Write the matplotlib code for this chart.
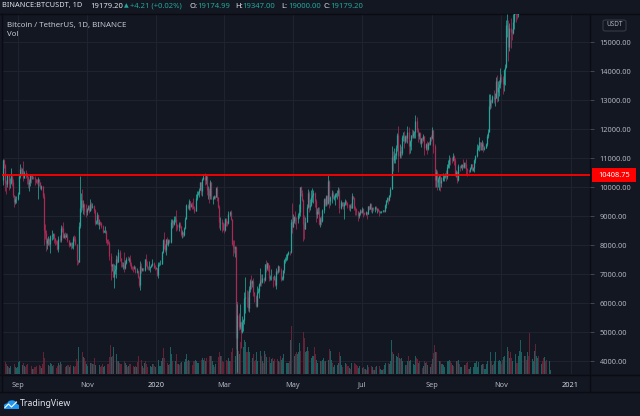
import matplotlib
matplotlib.use('Agg')
import matplotlib.pyplot as plt
import matplotlib.dates as mdates
import matplotlib.transforms as mtransforms
from matplotlib.patches import Rectangle, FancyBboxPatch, Circle
from matplotlib.lines import Line2D
import numpy as np
import pandas as pd

plt.rcParams['font.family'] = ['Noto Sans', 'DejaVu Sans']

# ---------------- data (BINANCE BTCUSDT, 1D) ----------------
start_date = '2019-08-19'
first_open = 10230.0

close = [
 # Aug 19-31 2019
 10920,10760,10130,10120,10410,10140,10140,10370,10190,9720,9490,9590,9600,
 # Sep 2019
 9770,10390,10620,10580,10580,10320,10490,10400,10330,10110,10160,10410,10360,10360,10310,
 10260,10190,10160,10270,10170,9980,10030,9700,8530,8430,8060,8190,8210,8050,8300,
 # Oct 2019
 8330,8390,8240,8150,8130,7860,8210,8180,8590,8570,8270,8340,8290,8350,8160,8000,
 8070,7950,7960,8230,8210,8020,7470,7430,8660,9260,9550,9300,9430,9160,9140,
 # Nov 2019
 9230,9300,9190,9400,9310,9340,9200,8770,8810,9040,8720,8800,8760,8640,8460,
 8490,8500,8170,8120,8080,7620,7280,7330,6900,7110,7160,7510,7420,7760,7540,
 # Dec 2019
 7400,7290,7300,7200,7390,7530,7500,7520,7340,7220,7200,7190,7250,7070,7120,6880,
 6620,7280,7150,7190,7140,7510,7320,7250,7200,7200,7250,7320,7390,7220,7200,
 # Jan 2020
 7200,6960,7340,7350,7360,7760,8160,8040,7820,8200,8020,8180,8110,8810,8820,8720,
 8900,8910,8700,8630,8740,8660,8390,8440,8340,8600,8900,9390,9290,9510,9350,
 # Feb 2020
 9380,9330,9290,9180,9620,9760,9800,9900,10170,9850,10270,10350,10240,10370,9900,
 9910,9700,10180,9600,9610,9690,9660,9960,9660,9310,8780,8810,8710,8530,
 # Mar 2020
 8520,8910,8760,8750,9070,9150,8890,8030,7930,7890,7940,4800,5580,5170,5360,5010,
 5350,5410,6180,6210,6190,5820,6480,6770,6690,6760,6370,6250,5880,6390,6410,
 # Apr 2020
 6640,6800,6740,6860,6780,7330,7200,7370,7300,6870,6890,6910,6860,6870,6620,
 7120,7100,7260,7130,6830,6850,7130,7490,7510,7540,7700,7770,7760,8780,8620,
 # May 2020
 8830,8970,8900,8880,9030,9150,9990,9810,9540,8720,8560,8810,9310,9790,9310,9380,
 9670,9730,9780,9510,9060,9170,9180,8720,8900,8840,9200,9570,9430,9700,9450,
 # Jun 2020
 10200,9520,9670,9790,9620,9670,9760,9780,9780,9890,9270,9470,9470,9340,9430,
 9520,9460,9390,9310,9360,9290,9680,9620,9290,9250,9160,9010,9120,9190,9140,
 # Jul 2020
 9230,9090,9060,9130,9080,9340,9250,9430,9240,9290,9240,9300,9240,9250,9190,9130,
 9150,9170,9210,9160,9390,9540,9610,9550,9710,9940,11050,10930,11100,11110,11350,
 # Aug 2020
 11800,11070,11230,11190,11740,11760,11600,11750,11680,11880,11400,11570,11780,11770,11860,11910,
 12280,11950,11750,11870,11520,11680,11650,11750,11330,11470,11320,11530,11470,11710,11680,
 # Sep 2020
 11970,11410,10250,10510,10170,10260,10380,10140,10230,10340,10390,10440,10330,10680,10790,
 10950,10940,10930,11080,10920,10420,10530,10240,10740,10690,10730,10770,10690,10840,10780,
 # Oct 2020
 10620,10570,10550,10670,10790,10600,10670,10920,11060,11300,11380,11540,11430,11430,11500,11320,
 11360,11500,11750,11910,12810,12990,12930,13130,13030,13070,13650,13280,13460,13560,13800,
 # Nov 2020
 13760,13550,14030,14150,15590,15590,14840,15480,15330,15310,15700,16280,16320,16070,15960,
 16720,17660,17800,17820,18650,18700,18420,18370,19160,18730,17150,17140,17720,18180,19700,
 # Dec 1-14 2020
 18760,19220,19420,18650,19150,19360,19170,18320,18550,18250,18040,18800,19174.99,19179.20,
]

high = [
 10950,10950,10790,10230,10440,10440,10300,10650,10390,10290,9720,9680,9680,
 9830,10440,10780,10680,10640,10900,10550,10580,10480,10380,10290,10450,10450,10420,10390,
 10370,10290,10280,10350,10290,10180,10080,10050,9790,8730,8530,8250,8320,8230,8330,
 8520,8400,8400,8250,8180,8160,8300,8350,8680,8650,8800,8410,8450,8400,8420,8170,
 8110,8120,8100,8300,8330,8300,8050,7500,8800,10370,9800,9940,9560,9450,9420,
 9290,9380,9380,9590,9480,9460,9380,9250,8860,9130,9080,8880,8830,8790,8700,
 8530,8650,8520,8200,8220,8130,7730,7360,7370,7350,7320,7660,7620,7870,7820,
 7550,7420,7400,7750,7490,7580,7630,7580,7650,7400,7270,7280,7310,7290,7200,7140,
 6930,7440,7380,7220,7200,7520,7700,7440,7270,7440,7270,7360,7530,7420,7320,
 7250,7220,7410,7400,7490,7800,8210,8460,8050,8210,8290,8200,8200,8890,8900,8850,
 9010,9000,9200,8740,8780,8800,8670,8520,8450,8610,8980,9400,9430,9570,9530,
 9440,9480,9610,9350,9750,9860,9870,9950,10180,10190,10320,10440,10500,10400,10390,
 10050,9960,10250,10190,9680,9740,9700,9990,10030,9670,9380,8980,8890,8800,
 8750,8930,8920,8840,9170,9170,9220,8900,8180,8160,7980,7970,5950,5650,5950,5370,
 5550,5450,6390,6900,6460,6400,6590,6840,6960,6800,6870,6380,6260,6600,6520,
 6680,7200,7000,6990,6880,7360,7470,7420,7380,7310,6950,7180,6920,6980,6940,
 7190,7150,7300,7270,7200,6930,7150,7530,7600,7690,7710,7800,7800,8880,9460,
 9060,9000,9190,8950,9100,9400,10000,10050,9910,9570,9030,8970,9400,9940,9850,9590,
 9880,9950,9900,9840,9580,9270,9310,9310,8980,9010,9230,9630,9610,9740,9710,
 10430,10230,9690,9880,9850,9740,9800,9800,9880,9990,9960,9560,9490,9480,9500,
 9580,9560,9480,9400,9400,9440,9780,9690,9660,9340,9290,9190,9130,9230,9200,
 9300,9260,9130,9190,9140,9350,9360,9460,9440,9310,9300,9340,9350,9280,9280,9210,
 9190,9190,9220,9220,9420,9550,9640,9640,9730,10000,11400,11250,11350,11170,11450,
 11860,12120,11480,11420,11790,11900,11920,11800,11810,12090,12070,11630,11800,12000,11970,11930,
 12470,12400,12030,11880,11880,11690,11720,11830,11770,11530,11590,11560,11590,11720,11790,
 12070,11970,11480,10630,10580,10350,10410,10440,10350,10500,10400,10480,10580,10800,10940,
 11100,11040,11040,11180,11090,10990,10570,10540,10790,10770,10790,10800,10950,10860,10850,
 10950,10670,10600,10690,10800,10800,10680,10960,11110,11490,11440,11720,11560,11560,11620,11540,
 11400,11510,11820,12000,13220,13200,13030,13160,13350,13250,13790,13860,13640,13700,14100,
 13900,13830,14070,14250,15750,15970,15770,15650,15840,15460,15960,16340,16480,16330,16170,
 16880,17860,18480,18180,18820,18960,18750,18770,19420,19480,18920,17460,17850,18350,19860,
 19920,19310,19570,19500,19180,19420,19420,19290,18640,18560,18290,18950,19410,19347,
]

low = [
 10080,10670,9850,9760,10000,9900,9950,10120,10050,9650,9320,9420,9440,
 9560,9770,10300,10420,10450,10200,10310,10300,10100,9960,9870,10050,10150,10280,10280,
 10060,10140,10100,9600,10040,9940,9900,9630,8000,8220,7800,7850,8000,7960,7710,
 8180,8210,8060,8010,8040,7830,7770,8110,8120,8440,8250,8250,8220,8260,8100,7920,
 7950,7850,7890,7860,8150,7990,7300,7350,7400,8600,9140,9200,9080,9040,8970,
 9040,9210,9100,9160,9200,9260,9100,8680,8740,8740,8680,8560,8700,8570,8400,
 8440,8400,8080,8000,8030,7500,6790,7100,6880,6510,7010,6860,7370,7400,7460,
 7230,7240,7160,7080,7170,7350,7470,7410,7270,7170,7130,7070,7170,7020,7020,6860,
 6560,6440,7040,7110,7090,7120,7270,7160,7130,7150,7060,7230,7280,7190,7150,
 7170,6920,6870,7270,7320,7350,7730,7870,7770,7660,8000,7970,8060,8080,8580,8610,
 8680,8800,8470,8520,8500,8570,8300,8240,8280,8300,8560,8880,9250,9200,9220,
 9310,9250,9240,9100,9170,9550,9720,9670,9880,9730,9700,10240,10080,10120,9730,
 9600,9450,9600,9580,9400,9580,9580,9650,9520,9270,8600,8530,8440,8520,
 8410,8490,8650,8660,8740,8990,8850,8000,7630,7730,7590,4410,3620,5070,5100,4440,
 4960,5050,5260,5670,5860,5730,5690,6380,6470,6540,6250,6020,5860,5860,6330,
 6160,6580,6600,6680,6680,6770,7080,7150,7110,6750,6780,6800,6560,6780,6600,
 6470,6990,7050,7060,6750,6780,6810,7020,7390,7450,7480,7650,7640,7730,8410,
 8610,8760,8710,8550,8760,8920,9010,9700,9520,8130,8200,8540,8800,9260,9150,9220,
 9330,9470,9460,9300,8810,8930,9070,8700,8630,8700,8810,9110,9330,9350,9380,
 9400,9270,9380,9460,9590,9540,9380,9640,9570,9700,9090,9250,9330,9240,8900,
 9370,9380,9280,9220,9180,9270,9280,9580,9200,9040,9050,8830,8940,9020,9090,
 9100,8950,9040,9050,8900,9070,9200,9240,9150,9110,9180,9150,9200,9120,9160,9000,
 9090,9120,9130,9130,9150,9280,9470,9420,9530,9650,9920,10560,10820,10840,10980,
 11230,10520,11000,11000,11090,11580,11330,11520,11540,11520,11130,11160,11270,11680,11700,11680,
 11690,11880,11560,11670,11490,11380,11520,11590,11120,11260,11150,11280,11440,11460,11600,
 11670,11160,10010,10000,9880,10000,9880,9850,10000,10200,10200,10320,10210,10270,10640,
 10660,10760,10820,10900,10770,10370,10360,10140,10200,10560,10640,10600,10670,10640,10660,
 10450,10370,10500,10530,10630,10540,10560,10530,10830,11040,11280,11240,11290,11270,11270,11220,
 11260,11340,11410,11680,11900,12690,12730,12900,12880,12780,13060,12920,12980,13140,13430,
 13620,13220,13300,13530,14100,15180,14350,14700,14800,15070,15280,15450,15970,15700,15800,
 15860,16570,17220,17340,17760,18350,17610,18000,18020,18500,16190,16500,16880,17520,18170,
 18330,18510,18930,18570,18500,18860,18900,18200,17650,17910,17570,18020,18710,19000,
]

volume_k = [  # thousand BTC
 60,55,65,55,45,40,35,45,45,60,55,40,35,
 40,65,70,55,50,60,45,40,50,55,55,50,45,30,30,40,40,45,70,50,45,35,55,120,90,95,70,50,45,60,
 55,45,50,45,35,45,60,50,65,55,60,40,40,45,50,50,40,50,40,45,40,45,85,70,150,210,130,120,95,90,75,
 55,45,50,60,60,55,55,90,50,50,55,50,40,45,55,40,45,60,55,55,95,163,95,100,150,95,110,70,70,60,
 55,55,50,70,60,50,40,45,55,55,45,45,40,45,40,65,100,125,80,45,35,60,70,55,40,45,45,40,55,55,45,
 40,55,80,45,45,75,90,145,90,90,60,50,55,150,110,75,95,75,110,55,55,50,60,65,50,65,85,110,75,80,70,
 45,50,75,70,80,75,60,60,60,80,90,80,90,75,90,70,100,100,100,70,50,40,55,85,95,120,100,100,75,
 65,90,80,75,90,70,75,120,145,110,100,300,400,130,110,180,140,150,190,180,120,120,150,120,110,90,110,70,80,120,70,
 100,130,100,75,60,130,110,95,80,95,60,85,90,75,85,130,85,70,65,100,80,90,110,80,60,60,60,70,190,265,
 150,100,110,120,110,120,170,130,120,235,200,120,130,150,130,80,90,100,100,150,110,80,60,90,70,70,80,90,70,70,70,
 80,140,130,80,60,40,50,50,50,60,120,100,50,40,75,60,55,45,45,35,30,60,60,60,55,50,45,35,45,40,
 35,40,30,30,25,50,40,50,45,40,25,25,40,45,40,45,30,25,25,30,50,60,65,60,55,75,190,125,110,80,100,
 95,115,90,85,90,70,80,50,50,75,100,70,80,70,55,50,100,90,85,60,70,45,35,45,70,60,65,50,40,40,55,
 85,115,160,120,120,70,75,70,55,55,50,40,40,70,70,80,70,60,50,45,100,70,75,80,55,40,40,55,50,50,
 60,65,30,30,40,40,40,60,60,75,40,65,55,50,55,55,30,30,55,75,145,120,70,50,55,70,120,115,75,80,75,
 55,80,95,100,180,150,130,90,120,90,70,110,110,60,60,100,130,190,120,110,100,100,80,120,100,230,120,85,75,130,
 165,100,90,100,70,55,70,90,95,75,80,55,70,20,
]

price_ticks = [4000, 5000, 6000, 7000, 8000, 9000, 10000, 11000, 12000, 13000, 14000, 15000]
month_ticks = ['2019-09-01', '2019-11-01', '2020-01-01', '2020-03-01', '2020-05-01',
               '2020-07-01', '2020-09-01', '2020-11-01', '2021-01-01']
month_labels = ['Sep', 'Nov', '2020', 'Mar', 'May', 'Jul', 'Sep', 'Nov', '2021']
hline_price = 10408.75

header_symbol = 'BINANCE:BTCUSDT, 1D'
header_last = '19179.20'
header_change = '+4.21 (+0.02%)'
header_ohlc = [('O:', '19174.99'), ('H:', '19347.00'), ('L:', '19000.00'), ('C:', '19179.20')]
legend_title = 'Bitcoin / TetherUS, 1D, BINANCE'

# ---------------- styling ----------------
BG = '#131722'
GRID = '#1f2330'
SEP = '#0a0c11'
TXT = '#b2b5be'
UP = '#26a69a'
DOWN = '#a82a55'
UPV = '#1d5f60'
DOWNV = '#632236'
RED = '#ff0000'

W, H = 640, 416
fig = plt.figure(figsize=(W / 100, H / 100), dpi=100)
fig.patch.set_facecolor(BG)


def prect(l, t, r, b):
    return [l / W, 1 - b / H, (r - l) / W, (b - t) / H]


def ftext(xp, yp, s, **kw):
    return fig.text(xp / W, 1 - yp / H, s, va='center', **kw)


pane = prect(2, 14, 590, 374)
gax = fig.add_axes(pane, zorder=0)
vax = fig.add_axes(pane, zorder=1)
ax = fig.add_axes(pane, zorder=2)

n = len(close)
assert len(high) == n and len(low) == n and len(volume_k) == n
dates = pd.date_range(start_date, periods=n, freq='D')
x = mdates.date2num(dates.to_pydatetime())
c = np.array(close, float)
o = np.r_[first_open, c[:-1]]
hi = np.array(high, float)
lo = np.array(low, float)
v = np.array(volume_k, float)
up = c >= o

base = mdates.date2num(pd.Timestamp('2019-09-01').to_pydatetime())
xlim = (base - 15.53 + 2 / 1.1332, base + 505.1)
ylim = (3552, 15966)

for a in (gax, vax, ax):
    a.set_xlim(*xlim)
    for s in a.spines.values():
        s.set_visible(False)
gax.set_ylim(*ylim)
ax.set_ylim(*ylim)
vax.set_ylim(0, v.max() / 0.2)
vax.patch.set_visible(False)
ax.patch.set_visible(False)
gax.set_facecolor(BG)
vax.set_xticks([]); vax.set_yticks([])
gax.set_xticks([]); gax.set_yticks([])

# grid
mt = [mdates.date2num(pd.Timestamp(m).to_pydatetime()) for m in month_ticks]
for p in price_ticks:
    gax.axhline(p, color=GRID, lw=0.75)
for m in mt:
    gax.axvline(m, color=GRID, lw=0.75)

# volume
vax.bar(x, v, width=0.75, color=np.where(up, UPV, DOWNV), linewidth=0)

# candles
cols = np.where(up, UP, DOWN)
ax.vlines(x, lo, hi, colors=cols, lw=0.55)
ax.vlines(x, np.minimum(o, c), np.maximum(o, c), colors=cols, lw=0.9)

# horizontal line
ax.axhline(hline_price, color=RED, lw=1.3, zorder=5)

# price axis
ax.yaxis.tick_right()
ax.set_yticks(price_ticks)
ax.set_yticklabels([f'{p:.2f}' for p in price_ticks])
ax.tick_params(axis='y', length=3, width=0.6, color='#4a4e5a', labelcolor=TXT,
               labelsize=5.3, pad=4)
# time axis
ax.set_xticks(mt)
ax.set_xticklabels(month_labels)
ax.tick_params(axis='x', length=0, labelcolor=TXT, labelsize=5.3, pad=5.5)
for lab in ax.get_xticklabels():
    if lab.get_text().isdigit():
        lab.set_fontweight('bold')
        lab.set_color('#d1d4dc')

# price label box for the line
bt = mtransforms.blended_transform_factory(fig.transFigure, ax.transData)
ax.add_patch(Rectangle((592 / W, hline_price - 7 / 0.029), 44 / W, 14 / 0.029,
                       transform=bt, facecolor=RED, edgecolor='none', clip_on=False, zorder=6))
ax.text(614 / W, hline_price, f'{hline_price:.2f}', transform=bt, ha='center', va='center',
        color='white', fontsize=5.3, fontweight='bold', clip_on=False, zorder=7)


# separators
def fline(x0, y0, x1, y1, color=SEP, lw=1.0):
    fig.add_artist(Line2D([x0 / W, x1 / W], [1 - y0 / H, 1 - y1 / H], color=color, lw=lw,
                          transform=fig.transFigure))


fline(0, 14, 640, 14)
fline(0, 374.5, 640, 374.5)
fline(0, 392, 640, 392)
fline(590, 14, 590, 392)
fline(1.5, 14, 1.5, 392)

# USDT badge
fig.add_artist(FancyBboxPatch((603 / W, 1 - 31 / H), 23 / W, 11 / H,
                              boxstyle='round,pad=0,rounding_size=0.004',
                              transform=fig.transFigure, facecolor=BG, edgecolor='#363a45', lw=0.8))
ftext(614.5, 25, 'USDT', ha='center', color=TXT, fontsize=4.6)

# header
ftext(1.5, 6, header_symbol, ha='left', color='#e0e3eb', fontsize=5.3, fontweight='bold')
ftext(90, 6, header_last, ha='left', color='#e0e3eb', fontsize=5.5)
ftext(123.5, 6, '\u25b2', ha='left', color=UP, fontsize=4.4, family='DejaVu Sans')
ftext(130, 6, header_change, ha='left', color=UP, fontsize=5.5)
hx = [(190, 197.3), (235, 242.7), (281.7, 288.7), (323.3, 330.7)]
for (lab, val), (xl, xv) in zip(header_ohlc, hx):
    ftext(xl, 6, lab, ha='left', color='#e0e3eb', fontsize=5.5, fontweight='bold')
    ftext(xv, 6, val, ha='left', color=UP, fontsize=5.5)

# pane legend
ftext(7.3, 25.5, legend_title, ha='left', color='#c4c7ce', fontsize=5.7)
ftext(7.3, 34, 'Vol', ha='left', color='#c4c7ce', fontsize=5.7)

# TradingView logo
lx, ly = 2.5, 404.5
for cx, cy, r in [(lx + 5, ly + 1.2, 3.6), (lx + 9.5, ly - 1.2, 4.6), (lx + 13.2, ly + 1.4, 3.3)]:
    fig.add_artist(Circle((cx / W, 1 - cy / H), r / W, transform=fig.transFigure,
                          facecolor='#2196f3', edgecolor='none'))
fig.add_artist(Rectangle(((lx + 1.4) / W, 1 - (ly + 4.8) / H), 15.2 / W, 4.2 / H,
                         transform=fig.transFigure, facecolor='#2196f3', edgecolor='none'))
fig.add_artist(Line2D([(lx + 2.5) / W, (lx + 6) / W, (lx + 9) / W, (lx + 14) / W],
                      [1 - (ly + 3) / H, 1 - (ly - 0.5) / H, 1 - (ly + 2.5) / H, 1 - (ly - 2.5) / H],
                      transform=fig.transFigure, color='white', lw=0.8))
ftext(19.5, 404, 'TradingView', ha='left', color='#e0e3eb', fontsize=6.3)

fig.savefig('out.png', dpi=100, facecolor=BG)
